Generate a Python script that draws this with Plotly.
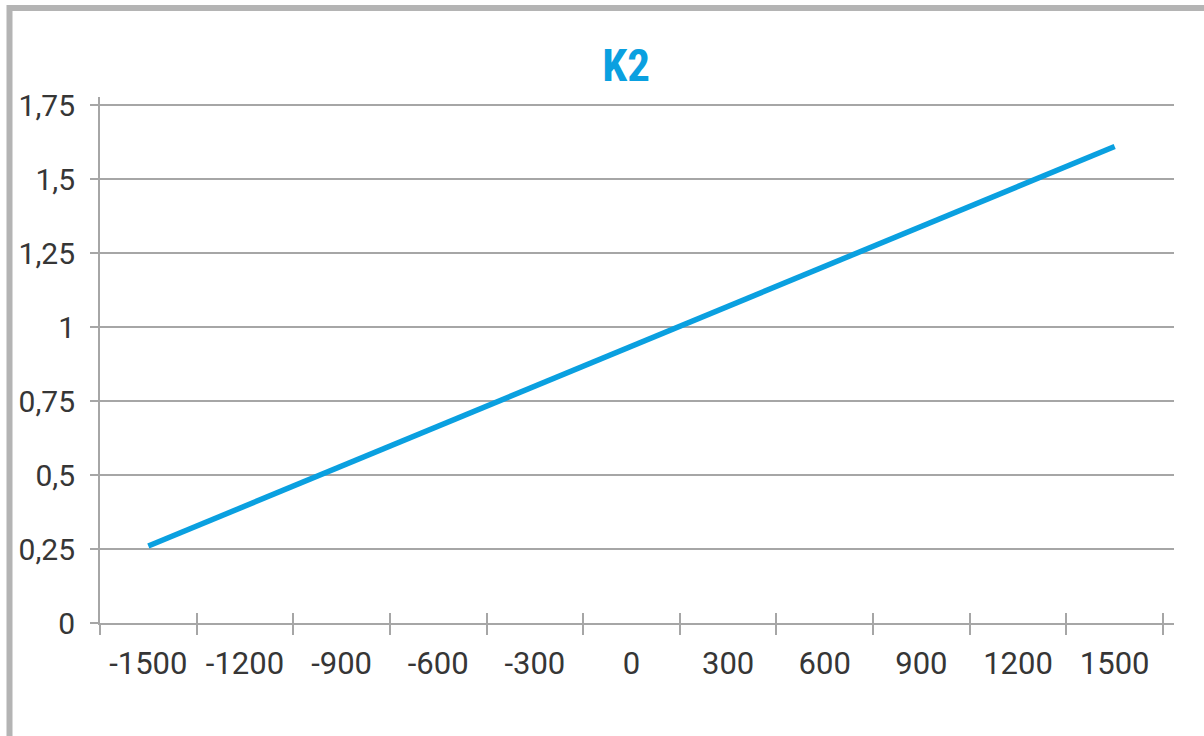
import plotly.graph_objects as go

# K2 coefficient by position
positions = ["-1500", "-1200", "-900", "-600", "-300", "0", "300", "600", "900", "1200", "1500"]
k2_values = [0.26, 0.395, 0.53, 0.665, 0.8, 0.935, 1.07, 1.205, 1.34, 1.475, 1.61]

y_ticks = [0, 0.25, 0.5, 0.75, 1, 1.25, 1.5, 1.75]

BLUE = "#0AA0E0"
GRID = "#A6A6A6"
TEXT = "#363636"
FRAME = "#B4B4B4"

fig = go.Figure()
fig.add_trace(go.Scatter(
    x=positions, y=k2_values, mode="lines",
    line=dict(color=BLUE, width=5.5),
    showlegend=False, hoverinfo="x+y",
))
# invisible trace on the second x axis so its crossing ticks get drawn
fig.add_trace(go.Scatter(
    x=positions, y=k2_values, mode="lines", xaxis="x2",
    line=dict(width=0), showlegend=False, hoverinfo="skip",
))

n = len(positions)
x_range = [-0.5, n - 0.5 + 0.114]

fig.update_layout(
    width=1204, height=736,
    margin=dict(l=100, r=30, t=97, b=113),
    paper_bgcolor="white", plot_bgcolor="white",
    separators=",.",
    font=dict(family="Roboto, 'Open Sans', sans-serif", size=31, color=TEXT),
    title=dict(
        text="<b>K2</b>",
        font=dict(family="'Liberation Sans Narrow', 'Roboto Condensed', Roboto, sans-serif",
                  size=45, color=BLUE),
        x=0.52, xanchor="center", xref="container",
        y=1 - 65 / 736, yanchor="middle", yref="container",
    ),
    xaxis=dict(
        type="category", range=x_range,
        showgrid=False, showline=True, linecolor=GRID, linewidth=2,
        ticks="outside", ticklen=10, tickwidth=2, tickcolor=GRID,
        tickson="boundaries", ticklabelstandoff=12,
        tickfont=dict(size=31, color=TEXT),
        zeroline=False, fixedrange=True,
    ),
    xaxis2=dict(
        type="category", range=x_range, overlaying="x", anchor="y",
        showgrid=False, showline=False, showticklabels=False,
        ticks="inside", ticklen=10, tickwidth=2, tickcolor=GRID,
        tickson="boundaries", fixedrange=True,
    ),
    yaxis=dict(
        range=[0, 1.75 + 8 / 296],
        tickvals=y_ticks,
        showgrid=True, gridcolor=GRID, gridwidth=2,
        showline=True, linecolor=GRID, linewidth=2,
        ticks="outside", ticklen=8, tickwidth=2, tickcolor=GRID,
        ticklabelstandoff=9,
        tickfont=dict(size=30, color=TEXT),
        zeroline=False, fixedrange=True,
    ),
    shapes=[
        # outer chart frame (top and left edges fall inside the page)
        dict(type="rect", xref="paper", yref="paper",
             x0=(9.5 - 100) / 1074, x1=(1215 - 100) / 1074,
             y0=(623 - 750) / 526, y1=(623 - 8) / 526,
             line=dict(color=FRAME, width=6), fillcolor="rgba(0,0,0,0)",
             layer="above"),
    ],
)

fig.write_html("out.html")
